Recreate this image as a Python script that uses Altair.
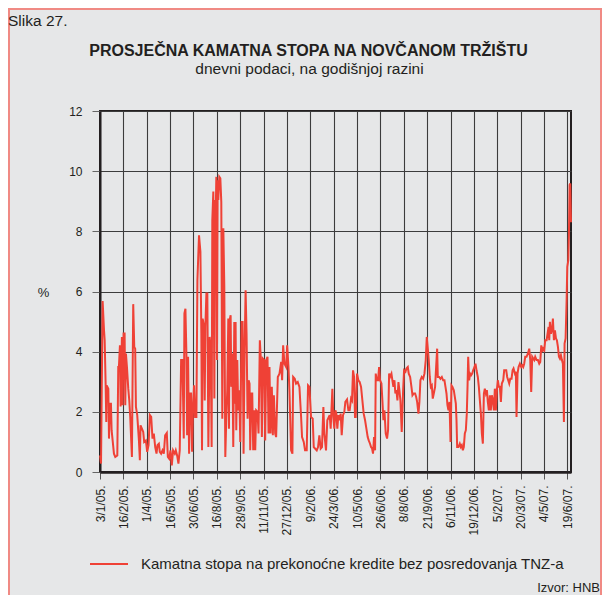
import json
import altair as alt
import pandas as pd

# ---- data -------------------------------------------------------------
tick_labels = ["3/1/05.", "16/2/05.", "1/4/05.", "16/5/05.", "30/6/05.", "16/8/05.",
               "28/9/05.", "11/11/05.", "27/12/05.", "9/2/06.", "24/3/06.", "10/5/06.",
               "26/6/06.", "8/8/06.", "21/9/06.", "6/11/06.", "19/12/06.", "5/2/07.",
               "20/3/07.", "4/5/07.", "19/6/07."]
tick_step = 32  # daily observations between labelled dates

day_index = [
    0, 1.4, 3.6, 5.5, 6.4, 7.7, 8.6, 9.1, 11.4, 12.3, 13.7, 15.0, 15.9, 17.3, 19.1, 20.9,
    23.7, 25.0, 25.9, 27.3, 28.2, 30.0, 31.0, 32.3, 33.7, 34.6, 35.5, 36.9, 38.7, 40.1,
    41.4, 43.7, 45.5, 46.9, 48.2, 49.2, 51.0, 53.3, 54.6, 55.5, 57.4, 59.2, 60.5, 62.8,
    64.6, 66.5, 68.3, 70.1, 71.9, 73.7, 75.6, 77.4, 78.7, 80.6, 81.9, 83.7, 85.6, 87.4,
    89.2, 91.5, 92.9, 94.7, 96.5, 98.3, 100.1, 102.4, 103.8, 105.6, 107.4, 109.2, 111.1,
    112.9, 114.7, 115.6, 117.0, 118.3, 119.3, 120.6, 122.0, 123.4, 124.7, 126.1, 127.4,
    128.8, 130.2, 132.0, 133.4, 135.6, 137.5, 138.8, 139.7, 140.6, 142.5, 143.4, 144.3,
    145.7, 147.0, 148.4, 150.2, 151.6, 152.9, 153.8, 155.2, 156.6, 157.5, 158.4, 159.3,
    160.2, 161.1, 162.0, 163.4, 164.8, 166.1, 167.5, 168.9, 170.2, 171.6, 173.0, 174.3,
    175.7, 176.6, 177.5, 178.9, 179.8, 181.2, 182.5, 183.9, 184.8, 185.7, 186.6, 188.0,
    189.3, 190.7, 192.1, 193.9, 195.3, 196.6, 198.0, 199.4, 200.7, 202.1, 203.5, 204.8,
    205.7, 207.1, 208.5, 209.8, 211.2, 212.6, 213.9, 215.7, 217.1, 218.9, 220.3, 221.7,
    223.0, 224.9, 226.2, 227.6, 229.4, 230.8, 232.1, 233.5, 235.3, 236.7, 238.1, 239.9,
    241.2, 243.5, 245.8, 248.1, 249.4, 250.8, 252.6, 254.9, 256.3, 258.1, 259.4, 261.7,
    263.5, 264.5, 266.7, 268.5, 270.8, 273.1, 275.4, 276.7, 279.0, 280.8, 283.1, 284.9,
    286.8, 289.0, 291.3, 292.7, 294.5, 296.8, 298.6, 300.4, 302.2, 304.0, 305.9, 307.2,
    309.5, 311.3,
    314.5, 315.9, 318.2, 319.5, 320.9, 322.3, 323.7, 325.0, 326.4, 328.2, 329.6, 331.0,
    332.8, 334.6, 336.0, 338.3, 340.1, 341.9, 343.8, 345.1, 346.5, 347.9, 349.2, 350.2,
    352.0, 353.8, 355.6, 357.5, 359.3, 361.1, 363.0, 364.8, 366.6, 368.0, 369.8, 371.2,
    372.6, 373.9, 375.3, 376.7, 377.6, 379.0, 380.8, 382.2, 383.5, 385.4, 386.7, 388.1,
    389.5, 391.3, 393.1, 394.5, 395.9, 397.2, 399.1, 400.4, 401.8, 403.2, 404.5, 405.9,
    407.3, 408.7, 410.0, 411.4, 413.2, 415.1, 416.4, 418.3, 419.6, 421.5, 422.8, 424.7,
    426.5, 427.9, 429.7, 431.5, 432.9, 434.3, 436.1, 437.4, 438.8, 440.6, 442.5, 444.3,
    446.1, 447.5, 448.9, 450.2, 451.6, 453.0, 454.4, 455.7, 457.1, 458.9, 460.3, 461.7,
    462.6, 464.4, 466.2, 468.1, 469.9, 471.7, 473.1, 474.5, 475.8, 477.2, 478.6, 480.0,
    481.3, 482.7, 484.5, 485.9, 487.3, 488.2, 489.1, 490.9, 492.7, 494.1, 495.5, 496.9,
    498.2, 499.6, 501.0, 502.3, 503.3, 504.2, 505.5, 506.9, 508.3, 509.7, 511.0, 512.9,
    514.2, 515.6, 517.4, 518.8, 520.2, 521.6, 522.9, 524.3, 525.7, 527.0, 528.4, 529.8,
    531.1, 532.5, 533.9, 535.2, 536.6, 538.0, 539.4, 540.7, 542.1, 543.5, 544.8, 546.2,
    547.6, 549.0, 550.3, 552.2, 553.5, 554.9, 556.3, 557.6, 559.0, 560.4, 561.8, 563.6,
    565.0, 566.3, 568.2, 569.5, 570.4, 571.8, 573.2, 575.0, 576.8, 578.2, 579.6, 580.9,
    582.3, 584.1, 586.0, 587.8, 589.2, 590.5, 591.9, 593.3, 594.7, 596.0, 597.9, 599.7,
    601.5, 602.9, 604.3, 605.6, 607.0, 608.4, 609.7, 611.6, 612.9, 614.3, 615.2, 616.1,
    617.5, 618.9, 620.2, 621.6, 623.0, 624.4, 625.7, 627.1, 628.5, 629.8, 631.2, 632.6,
    633.9, 635.3, 636.2, 637.6, 639.0, 639.9, 641.3, 642.2, 643.1, 644.0, 645.0,
]

rate = [
    0.55, 0.28, 5.68, 4.71, 4.38, 2.94, 1.66, 2.88, 2.77, 1.11, 2.27, 2.27, 1.39, 1.05, 0.61, 0.50,
    0.55, 3.49, 3.49, 4.21, 2.18, 4.49, 2.22, 4.60, 4.60, 2.22, 3.94, 3.49, 2.77, 2.38,
    1.83, 0.50, 5.58, 4.16, 4.10, 2.16, 1.89, 1.05, 0.39, 1.55, 1.44, 1.33, 1.00, 1.05,
    0.67, 0.89, 1.89, 1.83, 1.11, 1.28, 0.83, 0.61, 0.89, 0.94, 0.67, 0.61, 0.72, 0.61,
    1.22, 1.30, 0.50, 0.44, 0.72, 0.22, 0.72, 0.61, 0.72, 0.55, 0.28, 0.72, 3.72,
    3.72, 1.11, 5.27, 5.43, 3.94, 1.22, 3.83, 0.61, 2.61, 2.61, 0.67, 2.16,
    2.88, 1.83, 1.83, 6.38, 7.87, 7.32, 4.60, 0.72, 5.10, 4.82, 2.38, 4.82,
    5.93, 5.93, 0.83, 4.49, 4.05, 0.83, 8.37, 9.32, 2.44, 9.04, 8.48, 9.81,
    3.72, 9.70, 9.04, 9.81, 9.76, 8.98, 1.77, 8.10, 6.21, 0.50, 1.83, 2.72,
    5.10, 1.44, 5.05, 5.21, 2.83, 3.94, 0.83, 4.99, 2.27, 4.99, 1.39, 3.72,
    2.05, 2.72, 1.00, 4.99, 4.99, 0.61, 4.05, 6.04, 4.60, 1.77, 3.05, 2.94,
    0.72, 2.61, 2.61, 0.72, 2.05, 0.72, 2.05, 2.00, 1.28, 4.38, 3.72, 1.16,
    3.77, 3.72, 1.05, 3.72, 3.83, 1.28, 3.49, 1.28, 2.83, 1.22, 2.55, 1.28,
    1.16, 3.16, 3.27, 3.66, 3.05, 4.21, 3.60, 3.49, 4.21, 3.49, 2.72, 0.72,
    0.61, 3.16, 3.10, 2.94, 2.99, 2.83, 1.83, 1.16, 1.00, 0.72, 0.72, 2.88,
    2.83, 1.83, 1.77, 0.83, 0.78, 0.72, 0.83, 1.22, 0.78, 0.83, 2.16, 1.28,
    0.72, 1.72,
    1.89, 1.44, 2.77, 1.83, 1.44, 2.05, 1.94, 1.44, 1.89, 1.72, 1.94, 1.22,
    1.89, 2.00, 2.33, 2.41, 2.05, 2.05, 2.44, 2.38, 3.38, 3.16, 1.83, 1.83,
    3.27, 3.05, 2.99, 2.83, 2.38, 1.94, 1.72, 1.44, 1.16, 1.05, 0.94, 0.83,
    0.78, 0.61, 1.16, 0.72, 3.27, 3.05, 3.05, 3.49, 3.05, 2.94, 2.38, 1.72,
    2.05, 1.28, 1.11, 1.39, 3.27, 3.16, 3.27, 3.05, 2.83, 3.05, 2.61, 2.72,
    2.38, 2.99, 2.72, 2.38, 1.33, 2.72, 3.38, 3.33, 3.44, 3.49, 3.27, 3.16,
    2.83, 2.55, 2.61, 2.61, 2.50, 2.33, 1.94, 2.33, 3.05, 3.16, 3.10, 3.27,
    3.72, 4.49, 4.10, 3.72, 3.16, 2.83, 2.88, 2.44, 2.61, 2.83, 3.49, 4.10,
    3.16, 3.16, 3.10, 3.16, 3.05, 3.05, 2.83, 2.61, 2.22, 2.05, 2.33, 1.00,
    2.88, 2.83, 2.72, 2.50, 2.27, 1.72, 0.83, 0.83, 0.94, 0.83, 0.89, 0.72,
    0.83, 1.28, 1.39, 1.94, 2.83, 3.83, 3.05, 3.27, 3.22, 3.27, 3.38, 3.49,
    3.60, 3.38, 3.16, 2.83, 2.38, 1.94, 1.28, 0.94, 2.61, 2.77, 2.61, 2.72,
    2.33, 2.05, 2.55, 2.05, 2.55, 2.38, 2.05, 2.77, 2.05, 2.72, 3.05, 2.83,
    2.83, 2.33, 2.94, 3.05, 3.38, 3.38, 3.38, 3.16, 3.05, 2.94, 3.10, 3.10,
    3.38, 3.44, 3.27, 3.33, 1.83, 3.27, 3.49, 3.60, 3.49, 3.55, 3.49, 3.60,
    3.83, 3.83, 3.94, 4.10, 3.72, 2.66, 3.83, 3.77, 3.72, 3.83, 3.72, 3.72,
    3.60, 3.66, 4.21, 3.99, 4.10, 4.05, 4.38, 4.38, 4.60, 4.82, 4.38, 4.99,
    4.60, 4.71, 5.10, 4.38, 4.71, 4.44, 4.38, 4.16, 3.83, 3.77, 3.88, 3.72,
    3.60, 1.66, 4.27, 4.44, 5.71, 6.82, 7.04, 7.93, 9.54, 9.59, 8.30,
]

series_name = "Kamatna stopa na prekonoćne kredite bez posredovanja TNZ-a"
figure_label = "Slika 27."
source_label = "Izvor: HNB"
title_text = "PROSJEČNA KAMATNA STOPA NA NOVČANOM TRŽIŠTU"
subtitle_text = "dnevni podaci, na godišnjoj razini"

# ---- chart --------------------------------------------------------------
df = pd.DataFrame({"dan": day_index, "stopa": rate, "serija": series_name})

RED = "#ef4136"
INK = "#231f20"
BG = "#e6e7e8"
FONT = "Liberation Sans"

label_expr = json.dumps(tick_labels) + "[round(datum.value / %d)]" % tick_step
tick_values = [i * tick_step for i in range(len(tick_labels))]

line = alt.Chart(df).mark_line(strokeWidth=2, interpolate="linear").encode(
    x=alt.X("dan:Q",
            scale=alt.Scale(domain=[0, 645], nice=False, zero=False),
            axis=alt.Axis(values=tick_values, labelExpr=label_expr, title=None,
                          labelAngle=270, labelAlign="right", labelBaseline="middle",
                          labelFontSize=12, labelPadding=6, labelColor=INK,
                          labelFont=FONT, labelOverlap=False, labelBound=False,
                          labelFlush=False,
                          tickSize=7, tickColor="#555555", tickWidth=1,
                          domainColor=INK, domainWidth=2.5,
                          grid=True, gridColor="#3c3c3c", gridWidth=1.1)),
    y=alt.Y("stopa:Q",
            scale=alt.Scale(domain=[0, 12], nice=False),
            axis=alt.Axis(values=[0, 2, 4, 6, 8, 10, 12], title="%",
                          titleAngle=0, titleX=-57, titleY=181,
                          titleAlign="center", titleBaseline="middle",
                          titleFontSize=13, titleFontWeight="normal", titleColor=INK,
                          titleFont=FONT,
                          labelFontSize=12, labelPadding=10, labelColor=INK,
                          labelFont=FONT,
                          tickSize=8, tickColor="#666666", tickWidth=1,
                          domainColor=INK, domainWidth=2,
                          grid=True, gridColor="#3c3c3c", gridWidth=1.1)),
    color=alt.Color("serija:N",
                    scale=alt.Scale(range=[RED]),
                    legend=alt.Legend(title=None, orient="none", legendX=-11, legendY=433,
                                      symbolType="stroke", symbolSize=1444,
                                      symbolStrokeWidth=2, labelFontSize=15,
                                      labelFont=FONT, labelColor=INK, labelOffset=12,
                                      labelLimit=600)),
)

note_data = alt.Data(values=[{"t": 1}])
heading = alt.Chart(note_data).mark_text(
    text=title_text, align="center", baseline="alphabetic", fontSize=16,
    fontWeight="bold", font=FONT, color=INK).encode(x=alt.value(208.5), y=alt.value(-55))
subheading = alt.Chart(note_data).mark_text(
    text=subtitle_text, align="center", baseline="alphabetic", fontSize=15.5,
    font=FONT, color=INK).encode(x=alt.value(209.5), y=alt.value(-37.5))
slika = alt.Chart(note_data).mark_text(
    text=figure_label, align="left", baseline="alphabetic", fontSize=15.5,
    font=FONT, color=INK).encode(x=alt.value(-92), y=alt.value(-85))
izvor = alt.Chart(note_data).mark_text(
    text=source_label, align="right", baseline="alphabetic", fontSize=13,
    font=FONT, color=INK).encode(x=alt.value(500), y=alt.value(481))
frame = alt.Chart(note_data).mark_rect(
    filled=False, stroke="#f08a84", strokeWidth=2).encode(
    x=alt.value(-91), x2=alt.value(501), y=alt.value(-102), y2=alt.value(500))

chart = alt.layer(frame, line, heading, subheading, slika, izvor).properties(
    width=471, height=361,
    autosize=alt.AutoSizeParams(type="none"),
    padding={"left": 92, "top": 103, "right": 31, "bottom": 123},
    background=BG,
).configure_view(stroke=INK, strokeWidth=2)

chart.save("out.html", embed_options={"renderer": "svg", "actions": False})
